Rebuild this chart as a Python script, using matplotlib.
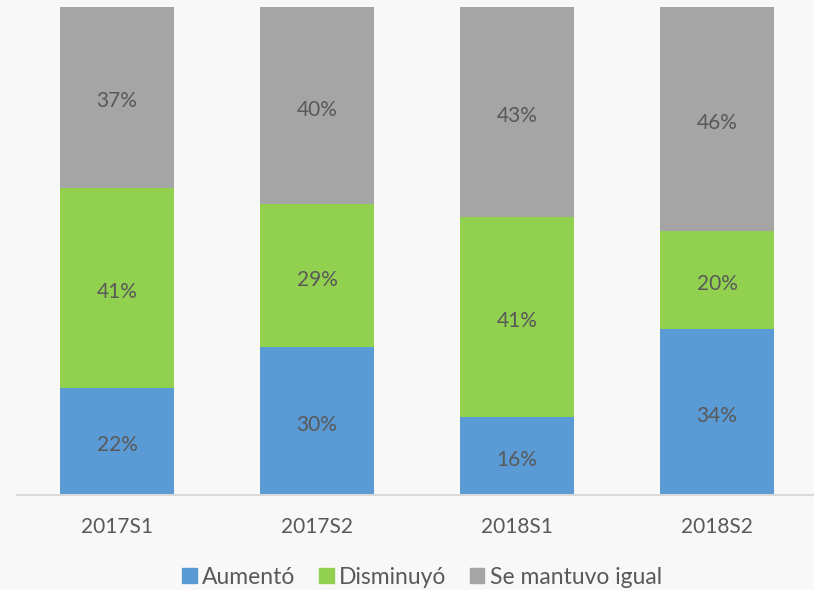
import numpy as np
import matplotlib.pyplot as plt
from matplotlib.patches import Patch

# data (shares in %)
categories = ["2017S1", "2017S2", "2018S1", "2018S2"]
aumento = [22, 30, 16, 34]
disminuyo = [41, 29, 41, 20]
igual = [37, 40, 43, 46]

series = [("Aumentó", aumento, "#5B9BD5"),
          ("Disminuyó", disminuyo, "#92D050"),
          ("Se mantuvo igual", igual, "#A5A5A5")]

plt.rcParams['font.family'] = ['Lato', 'DejaVu Sans']

fig = plt.figure(figsize=(8.14, 5.90), dpi=100, facecolor="#F8F8F8")
ax = fig.add_axes([17 / 814, (590 - 495) / 590, 800 / 814, 488 / 590])
ax.set_facecolor("#F8F8F8")

# 100% stacked: each bar is scaled to its own total
totals = np.sum([s[1] for s in series], axis=0).astype(float)

x = np.arange(len(categories))
bottom = np.zeros(len(categories))
for name, vals, color in series:
    share = np.array(vals, dtype=float) / totals * 100
    ax.bar(x, share, width=0.57, bottom=bottom, color=color, label=name)
    for xi, b, h, v in zip(x, bottom, share, vals):
        ax.annotate(f"{v}%", (xi, b + h / 2), xytext=(0, -3), textcoords="offset points",
                    ha="center", va="center", fontsize=15, color="#595959")
    bottom += share

ax.set_xlim(-0.5, 3.5)
ax.set_ylim(0, 100)
ax.set_yticks([])
ax.set_xticks(x)
ax.set_xticklabels(categories, fontsize=15, color="#595959")
ax.tick_params(axis="x", length=0, pad=16)
for s in ["top", "left", "right"]:
    ax.spines[s].set_visible(False)
ax.spines["bottom"].set_color("#D9D9D9")
ax.spines["bottom"].set_linewidth(1.5)

handles = [Patch(color=c, label=n) for n, _, c in series]
fig.legend(handles=handles, loc="center", bbox_to_anchor=(422 / 814, 1 - 577 / 590),
           ncol=3, frameon=False, fontsize=16.5, handlelength=0.65, handleheight=0.65,
           handletextpad=0.25, columnspacing=1.0, labelcolor="#595959",
           borderpad=0)

fig.savefig("out.png", dpi=100, facecolor=fig.get_facecolor())
